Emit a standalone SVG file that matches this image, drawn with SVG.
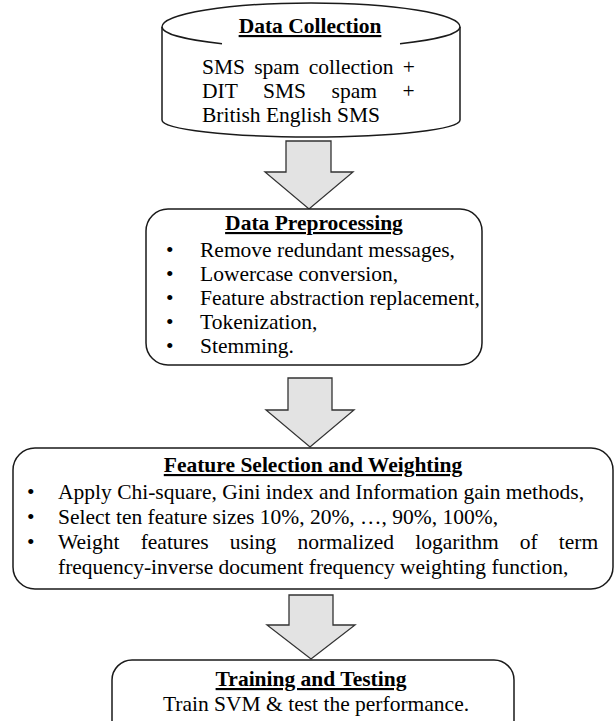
<svg xmlns="http://www.w3.org/2000/svg" width="616" height="721" viewBox="0 0 616 721">
<style>
.t{font-family:"Liberation Serif","Times New Roman",serif;font-size:21.5px;fill:#000}
.h{font-weight:bold;text-decoration:underline;text-anchor:middle}
.box{fill:#fff;stroke:#1a1a1a;stroke-width:1.5}
.ln{fill:none;stroke:#1a1a1a;stroke-width:1.5}
.arr{fill:#e3e3e3;stroke:#333;stroke-width:1.3;stroke-linejoin:miter}
</style>
<rect width="616" height="721" fill="#fff"/>
<g id="connectors">
<polygon class="arr" points="286,141 331,141 331,172 353,172 309,209 265,172 286,172"/>
<polygon class="arr" points="288,378 332,378 332,410 354,410 310,447 266,410 288,410"/>
<polygon class="arr" points="289,595 333,595 333,625 355,625 311,659 267,625 289,625"/>
</g>
<g id="data-collection">
<path class="box" d="M162,27 A149,24 0 0 1 460,27 L460,120 A149,17 0 0 1 162,120 Z"/>
<path class="ln" d="M162,27 A149,21 0 0 0 222,43.7 M400,43.7 A149,21 0 0 0 460,27"/>
<text class="t h" x="310" y="33">Data Collection</text>
<text class="t" x="202" y="74" word-spacing="3.8">SMS spam collection +</text>
<text class="t" x="202" y="98" word-spacing="20.2">DIT SMS spam +</text>
<text class="t" x="202" y="122">British English SMS</text>
</g>
<g id="data-preprocessing">
<rect class="box" x="146" y="209" width="336" height="156" rx="22"/>
<text class="t h" x="314" y="230">Data Preprocessing</text>
<g class="t">
<text x="166" y="257">•</text><text x="200" y="257">Remove redundant messages,</text>
<text x="166" y="281">•</text><text x="200" y="281">Lowercase conversion,</text>
<text x="166" y="305">•</text><text x="200" y="305">Feature abstraction replacement,</text>
<text x="166" y="329">•</text><text x="200" y="329">Tokenization,</text>
<text x="166" y="353">•</text><text x="200" y="353">Stemming.</text>
</g>
</g>
<g id="feature-selection">
<rect class="box" x="13" y="448" width="600" height="141" rx="22"/>
<text class="t h" x="313" y="472">Feature Selection and Weighting</text>
<g class="t">
<text x="27" y="498.5">•</text><text x="58" y="498.5">Apply Chi-square, Gini index and Information gain methods,</text>
<text x="27" y="523.5">•</text><text x="58" y="523.5">Select ten feature sizes 10%, 20%, …, 90%, 100%,</text>
<text x="27" y="548.5">•</text><text x="58" y="548.5" word-spacing="15.7">Weight features using normalized logarithm of term</text>
<text x="58" y="573.5">frequency-inverse document frequency weighting function,</text>
</g>
</g>
<g id="training-testing">
<rect class="box" x="112" y="660" width="402" height="100" rx="20"/>
<text class="t h" x="311" y="686">Training and Testing</text>
<text class="t" x="316" y="711" text-anchor="middle">Train SVM &amp; test the performance.</text>
</g>
</svg>
